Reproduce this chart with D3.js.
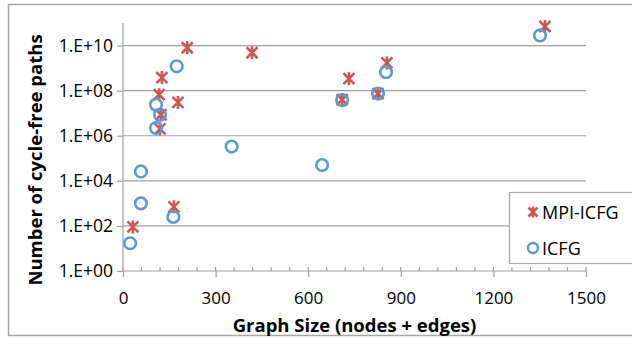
<!DOCTYPE html>
<meta charset="utf-8">
<style>
    body { margin: 0; background: #fff; }
    text { font-family: "Open Sans", "Liberation Sans", sans-serif; fill: #000; }
    .grid line { stroke: #a0a0a0; stroke-width: 1.2px; }
    .axis path, .axis line { stroke: #a0a0a0; stroke-width: 1.2px; }
</style>
<body>
<script src="https://cdn.jsdelivr.net/npm/d3@7"></script>
<script>
    // graph size (nodes + edges) and number of cycle-free paths
    var mpiX = [32, 165, 126, 117, 123, 120, 178, 208, 418, 732, 710, 826, 855, 1367]
    var mpiY = [90, 700, 3.8e8, 6.6e7, 8.5e6, 2.0e6, 3.0e7, 8e9, 4.8e9, 3.4e8, 4.0e7, 7.4e7, 1.7e9, 7e10]
    var icfgX = [23, 58, 58, 163, 107, 120, 107, 174, 352, 645, 710, 826, 852, 1351]
    var icfgY = [17, 1000, 2.6e4, 250, 2.2e6, 8.5e6, 2.4e7, 1.2e9, 3.3e5, 5.0e4, 3.8e7, 7.4e7, 6.6e8, 2.8e10]
    var xTicks = [0, 300, 600, 900, 1200, 1500]
    var yTicks = [1, 1e2, 1e4, 1e6, 1e8, 1e10]
    var yTickLabels = ["1.E+00", "1.E+02", "1.E+04", "1.E+06", "1.E+08", "1.E+10"]
    var seriesNames = ["MPI-ICFG", "ICFG"]

    var width = 632, height = 338
    var red = "#cf5651", blue = "#5b9bd5"

    var svg = d3.select("body").append("svg")
        .attr("width", width)
        .attr("height", height)

    // outer chart border
    svg.append("rect")
        .attr("x", 8.5).attr("y", 4.5)
        .attr("width", 640).attr("height", 331)
        .attr("fill", "none")
        .attr("stroke", "#a6a6a6")
        .attr("stroke-width", 1.5)

    var x = d3.scaleLinear().domain([0, 1500]).range([123, 586])
    var y = d3.scaleLog().domain([1, 1e11]).range([271, 23])

    // gridlines
    svg.append("g").attr("class", "grid")
        .selectAll("line")
        .data(yTicks.slice(1))
        .enter().append("line")
            .attr("x1", x(0)).attr("x2", x(1500))
            .attr("y1", function(d) {return y(d)})
            .attr("y2", function(d) {return y(d)})

    // y axis
    var yAxis = d3.axisLeft(y)
        .tickValues(yTicks)
        .tickFormat(function(d, i) {return yTickLabels[i]})
        .tickSize(6)
        .tickPadding(4)
    var gy = svg.append("g").attr("class", "axis")
        .attr("transform", `translate(${x(0)},0)`)
        .call(yAxis)
    gy.select(".domain").attr("d", `M0,${y(1e11)}V${y(1)}`)
    gy.selectAll("text").style("font-size", "17.5px")

    // x axis minor ticks
    svg.append("g").attr("class", "axis")
        .selectAll("line")
        .data(d3.range(0, 1501, 60))
        .enter().append("line")
            .attr("x1", function(d) {return x(d)})
            .attr("x2", function(d) {return x(d)})
            .attr("y1", y(1) - 4).attr("y2", y(1))

    var xAxis = d3.axisBottom(x)
        .tickValues(xTicks)
        .tickFormat(d3.format("d"))
        .tickSize(6)
        .tickPadding(15)
    var gx = svg.append("g").attr("class", "axis")
        .attr("transform", `translate(0,${y(1)})`)
        .call(xAxis)
    gx.select(".domain").attr("d", `M${x(0)},0H${x(1500)}`)
    gx.selectAll("text").style("font-size", "17px")

    // axis titles
    svg.append("text")
        .attr("x", (x(0) + x(1500)) / 2)
        .attr("y", 332)
        .attr("text-anchor", "middle")
        .style("font-size", "18.5px")
        .style("font-weight", "bold")
        .text("Graph Size (nodes + edges)")

    svg.append("text")
        .attr("transform", `translate(42,${(y(1) + y(1e11)) / 2 + 13}) rotate(-90)`)
        .attr("text-anchor", "middle")
        .style("font-size", "18.5px")
        .style("font-weight", "bold")
        .text("Number of cycle-free paths")

    function asterisk(g, cx, cy, s) {
        g.append("path")
            .attr("d", `M${cx-s},${cy-s}L${cx+s},${cy+s}M${cx-s},${cy+s}L${cx+s},${cy-s}M${cx},${cy-s-1}V${cy+s+1}`)
            .attr("stroke", red)
            .attr("stroke-width", 2.6)
            .attr("fill", "none")
    }

    // MPI-ICFG asterisks
    var gm = svg.append("g")
    mpiX.forEach(function(d, i) {
        asterisk(gm, x(d), y(mpiY[i]), 5.5)
    })

    // ICFG circles
    svg.append("g").selectAll("circle")
        .data(icfgX)
        .enter().append("circle")
            .attr("cx", function(d) {return x(d)})
            .attr("cy", function(d, i) {return y(icfgY[i])})
            .attr("r", 5.8)
            .attr("fill", "none")
            .attr("stroke", blue)
            .attr("stroke-width", 2.6)

    // legend
    var lg = svg.append("g")
    lg.append("rect")
        .attr("x", 509.5).attr("y", 192.5)
        .attr("width", 130).attr("height", 71)
        .attr("fill", "#fff")
        .attr("stroke", "#a6a6a6")
        .attr("stroke-width", 1.2)
    asterisk(lg, 533, 212, 4.5)
    lg.append("circle")
        .attr("cx", 533).attr("cy", 248).attr("r", 5)
        .attr("fill", "none").attr("stroke", blue).attr("stroke-width", 2.4)
    lg.selectAll("text.leg")
        .data(seriesNames)
        .enter().append("text")
            .attr("class", "leg")
            .attr("x", 542)
            .attr("y", function(d, i) {return 219 + i * 36})
            .style("font-size", "18px")
            .text(function(d) {return d})
</script>
</body>
